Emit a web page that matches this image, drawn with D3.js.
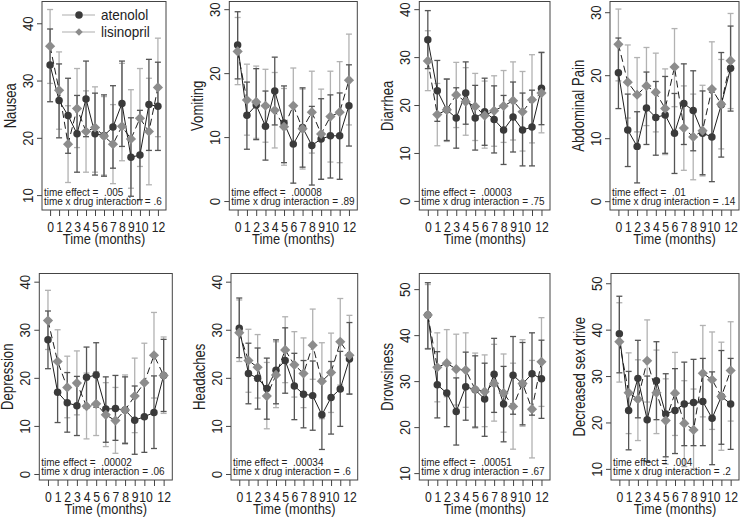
<!DOCTYPE html>
<html>
<head>
<meta charset="utf-8">
<script src="https://cdn.jsdelivr.net/npm/d3@7"></script>
<style>
  body { margin: 0; background: #fff; }
  text { font-family: "Liberation Sans", Arial, sans-serif; fill: #222; }
</style>
</head>
<body>
<svg id="chart" width="740" height="520"></svg>
<script>
// ---- data ----
const months = d3.range(0, 13)
const monthLabels = [0,1,2,3,4,5,6,7,8,9,10,12]
const symptoms = ["Nausea","Vomiting","Diarrhea","Abdominal Pain","Depression","Headaches","Drowsiness","Decreased sex drive"]
const timeEffect = [".005",".00008",".00003",".01",".00002",".00034",".00051",".004"]
const interaction = [".6",".89",".75",".14",".06",".6",".67",".2"]
const yTicks = [[10,20,30,40],[0,10,20,30],[0,10,20,30,40],[0,10,20,30],
                [0,10,20,30,40],[0,10,20,30,40],[10,20,30,40,50],[10,20,30,40,50]]
const yExtent = [[7.4,43.8],[-1.4,31.2],[-1.9,41.6],[-1.4,31.7],
                 [-1.25,41.7],[-1.25,41.7],[8.5,53.4],[7.6,52.1]]

const atenololMean = [
  [32.7,26.5,23.9,20.7,26.8,20.7,20.4,21.9,26.0,16.6,17.0,25.8,25.5],
  [24.4,13.4,15.0,11.7,17.2,12.2,8.9,11.5,8.7,9.7,10.2,10.2,14.9],
  [33.6,23.0,19.0,17.3,22.5,17.3,18.6,17.0,14.8,17.5,14.8,15.4,23.5],
  [20.4,11.3,8.7,14.8,13.3,13.7,10.8,15.5,14.4,10.8,10.2,15.3,21.1],
  [27.9,17.0,14.8,14.2,20.1,20.6,13.5,13.6,13.3,11.2,11.9,12.8,20.5],
  [30.3,20.9,19.9,17.8,21.6,23.6,18.3,16.6,16.3,12.3,15.9,17.7,23.9],
  [44.4,29.2,27.4,23.4,28.8,28.1,26.1,31.5,25.0,31.3,29.4,31.6,30.5],
  [39.1,22.6,29.5,20.6,29.0,21.8,22.6,24.0,24.3,24.5,20.9,25.6,24.0]]
const atenololLow = [
  [26.3,20.0,17.3,14.0,20.2,13.5,13.3,14.7,18.5,9.8,9.2,17.8,17.8],
  [19.1,8.1,9.6,6.4,11.9,6.0,2.8,5.3,2.5,3.4,3.6,3.4,8.6],
  [27.6,16.6,12.6,11.0,16.0,10.6,11.6,10.0,7.6,10.2,7.3,7.3,15.9],
  [14.7,5.5,2.9,9.0,7.3,7.6,4.4,9.0,8.0,4.2,3.1,7.0,14.3],
  [21.9,10.7,8.7,8.0,13.7,13.9,6.6,7.0,6.3,4.1,4.5,5.3,13.0],
  [24.2,14.6,13.5,11.4,14.6,16.8,11.3,9.6,9.1,5.1,8.3,9.9,16.6],
  [37.0,22.0,20.1,16.1,21.5,20.0,18.0,23.2,16.8,22.8,20.5,22.6,21.9],
  [30.7,14.1,21.0,11.6,20.6,12.6,13.3,15.0,15.0,15.0,10.9,15.3,14.2]]
const atenololHigh = [
  [39.0,32.9,30.4,27.4,33.4,27.8,27.5,29.1,33.4,23.5,24.8,33.7,33.2],
  [29.6,18.6,20.7,17.2,22.5,18.0,15.0,17.7,14.8,16.0,16.6,16.9,21.3],
  [39.7,29.3,25.4,23.6,29.0,24.1,25.6,24.0,22.0,24.8,22.5,23.1,31.0],
  [25.9,17.0,14.2,20.5,19.0,19.8,17.1,21.8,20.7,17.5,17.3,23.6,27.8],
  [33.9,23.2,21.1,20.3,26.4,27.3,20.2,20.5,20.2,18.3,19.3,20.4,28.0],
  [36.6,27.2,26.2,24.1,27.9,30.4,25.1,23.6,23.5,19.7,23.4,25.5,31.5],
  [51.4,36.4,34.0,30.7,36.3,35.5,33.9,39.3,33.2,39.7,38.4,40.5,38.9],
  [47.2,31.0,37.7,30.0,37.4,30.5,31.6,33.0,33.6,33.8,30.9,35.5,33.8]]

const lisinoprilMean = [
  [36.0,28.3,18.9,25.1,21.1,21.8,20.3,18.9,22.0,19.8,23.4,21.1,28.8],
  [23.4,15.8,15.5,14.9,14.2,11.6,14.9,11.3,13.9,10.5,13.2,13.9,18.9],
  [29.2,18.0,19.0,22.1,20.7,19.7,17.8,18.8,19.8,20.9,18.6,21.1,22.5],
  [24.9,18.9,16.9,18.3,17.3,14.7,21.3,11.6,10.2,11.2,17.8,15.4,22.3],
  [31.9,23.4,18.0,18.9,14.1,14.6,12.3,11.1,13.3,16.2,19.0,24.7,20.5],
  [29.4,23.6,22.2,16.2,20.6,25.8,22.7,20.9,26.8,19.3,21.1,27.5,24.7],
  [44.4,33.0,33.9,32.6,32.4,28.2,27.7,29.5,27.4,24.5,29.5,23.9,34.2],
  [37.4,26.4,25.0,33.3,26.4,20.4,26.3,19.8,18.4,30.6,29.2,25.6,31.2]]
const lisinoprilLow = [
  [29.5,21.5,12.2,18.3,14.0,14.0,13.5,12.0,16.0,11.2,15.0,11.8,20.2],
  [18.2,10.3,9.8,9.2,8.3,5.6,8.9,5.0,7.5,3.4,6.1,6.0,11.9],
  [23.0,11.5,12.4,15.3,13.7,12.6,11.0,11.4,12.2,12.7,10.4,12.1,14.2],
  [19.1,13.2,11.0,12.0,11.0,7.4,15.0,4.9,3.4,4.0,10.4,8.3,14.7],
  [25.9,16.9,11.7,12.3,7.3,8.0,5.7,4.3,6.5,8.6,11.5,15.8,12.6],
  [23.4,17.0,15.8,9.4,13.8,19.0,16.0,13.8,19.7,11.5,12.8,18.5,16.7],
  [37.1,25.5,26.6,24.8,24.3,19.8,20.1,21.3,18.9,15.2,20.2,13.3,24.5],
  [28.7,17.6,16.1,24.4,17.6,11.0,17.2,10.5,10.0,21.2,18.5,14.0,20.3]]
const lisinoprilHigh = [
  [42.4,35.0,25.6,32.1,28.2,28.9,27.2,25.8,33.0,28.4,32.1,30.4,37.4],
  [28.7,21.4,21.1,20.6,20.1,17.6,20.8,17.5,20.3,17.5,20.3,21.8,26.1],
  [35.5,24.5,25.5,28.9,27.8,26.6,25.0,26.1,27.2,29.0,27.0,30.5,30.9],
  [30.5,24.8,22.8,24.4,23.5,21.0,27.4,18.3,17.0,18.4,25.3,22.5,29.8],
  [38.2,30.0,24.5,25.6,21.0,21.3,19.0,18.0,20.6,24.1,27.2,33.6,28.5],
  [36.2,30.1,29.0,23.2,27.5,32.7,29.6,28.3,34.3,27.3,29.3,36.5,33.0],
  [51.0,40.5,41.2,40.2,40.5,36.1,35.7,38.0,35.9,33.9,39.0,34.5,43.8],
  [45.8,35.0,33.5,42.1,35.6,29.4,35.1,29.0,27.2,40.9,39.5,37.3,41.7]]

// ---- layout: plot boxes [left, right, top, bottom] ----
const boxes = [[42,166,1.5,210],[229.3,357.3,1.5,210],[419.3,550,1.5,210],[610,739,1.5,210],
               [39.3,172.3,273.5,480],[231,357.7,273.5,480],[419.3,550,273.5,480],[611,739,273.5,480]]

const darkBar = "#555", lightBar = "#b2b2b2",
      darkMark = "#3a3a3a", lightMark = "#8c8c8c", lineCol = "#1e1e1e"

const svg = d3.select("#chart")

function label(g, x, y, str, size, sx, anchor, rot) {
  return g.append("text")
    .attr("transform", `translate(${x},${y}) rotate(${rot||0}) scale(${sx},1)`)
    .attr("text-anchor", anchor)
    .style("font-size", size + "px")
    .style("white-space", "pre")
    .text(str)
}

symptoms.forEach((name, i) => {
  const [x0, x1, y0, y1] = boxes[i]
  const x = d3.scaleLinear().domain([-0.9, 12.9]).range([x0, x1])
  const y = d3.scaleLinear().domain(yExtent[i]).range([y1, y0])
  const g = svg.append("g")

  const series = [
    {mean: atenololMean[i], lo: atenololLow[i], hi: atenololHigh[i], bar: darkBar},
    {mean: lisinoprilMean[i], lo: lisinoprilLow[i], hi: lisinoprilHigh[i], bar: lightBar}]

  // confidence intervals (light first, dark on top)
  ;[series[1], series[0]].forEach(s => {
    const cg = g.append("g").attr("stroke", s.bar).attr("stroke-width", 1.3).attr("fill", "none")
    months.forEach(m => {
      cg.append("line").attr("x1", x(m)).attr("x2", x(m)).attr("y1", y(s.lo[m])).attr("y2", y(s.hi[m]))
      cg.append("line").attr("x1", x(m)-3).attr("x2", x(m)+3).attr("y1", y(s.lo[m])).attr("y2", y(s.lo[m]))
      cg.append("line").attr("x1", x(m)-3).attr("x2", x(m)+3).attr("y1", y(s.hi[m])).attr("y2", y(s.hi[m]))
    })
  })

  const line = d3.line().x((d, k) => x(months[k])).y(d => y(d))
  g.append("path").attr("d", line(series[0].mean)).attr("fill", "none")
    .attr("stroke", lineCol).attr("stroke-width", 1)
  g.append("path").attr("d", line(series[1].mean)).attr("fill", "none")
    .attr("stroke", lineCol).attr("stroke-width", 1).attr("stroke-dasharray", "7,4")

  g.selectAll(".circ").data(series[0].mean).join("path").attr("class", "circ")
    .attr("transform", (d, k) => `translate(${x(months[k])},${y(d)})`)
    .attr("d", d3.symbol(d3.symbolCircle, 44)).attr("fill", darkMark)
  g.selectAll(".diam").data(series[1].mean).join("path").attr("class", "diam")
    .attr("transform", (d, k) => `translate(${x(months[k])},${y(d)}) rotate(45)`)
    .attr("d", d3.symbol(d3.symbolSquare, 52)).attr("fill", lightMark)

  // frame
  g.append("rect").attr("x", x0).attr("y", y0).attr("width", x1-x0).attr("height", y1-y0)
    .attr("fill", "none").attr("stroke", "#444").attr("stroke-width", 1)

  // axes
  const xa = g.append("g").attr("transform", `translate(0,${y1})`)
    .call(d3.axisBottom(x).tickValues(months).tickSize(6).tickSizeOuter(0)
      .tickFormat(d => monthLabels.includes(d) ? d : ""))
  xa.select(".domain").remove()
  xa.selectAll("line").attr("stroke", "#444")
  xa.selectAll("text").attr("y", 22).attr("dy", 0)
    .attr("x", d => d === 10 ? 1.5 : 0)
    .attr("transform", "scale(0.84,1)")
    .style("font-size", "14.5px").attr("fill", "#222")

  const ya = g.append("g").attr("transform", `translate(${x0},0)`)
    .call(d3.axisLeft(y).tickValues(yTicks[i]).tickSize(5).tickSizeOuter(0))
  ya.select(".domain").remove()
  ya.selectAll("line").attr("stroke", "#444")
  ya.selectAll("text").attr("x", 0).attr("y", -9).attr("dy", 0)
    .attr("transform", "rotate(-90) scale(0.88,1)")
    .attr("text-anchor", "middle")
    .style("font-size", "15px").attr("fill", "#222")
  xa.attr("font-family", null); ya.attr("font-family", null)

  label(g, (x0+x1)/2, y1+34, "Time (months)", 14, 0.92, "middle")
  label(g, x0-26, (y0+y1)/2, name, 16, 0.82, "middle", -90)

  label(g, x0+2, y1-14.5, "time effect =  " + timeEffect[i], 10.5, 0.95, "start")
  label(g, x0+2, y1-5.5, "time x drug interaction = " + interaction[i], 10.5, 0.95, "start")

  if (i === 0) {
    const lg = g.append("g")
    const entries = [{name: "atenolol", y: 15, circ: true}, {name: "lisinopril", y: 32, circ: false}]
    entries.forEach(e => {
      lg.append("line").attr("x1", 62).attr("x2", 95).attr("y1", e.y).attr("y2", e.y)
        .attr("stroke", "#c8c8c8").attr("stroke-width", 1.5)
      lg.append("path").attr("transform", `translate(79,${e.y})` + (e.circ ? "" : " rotate(45)"))
        .attr("d", d3.symbol(e.circ ? d3.symbolCircle : d3.symbolSquare, e.circ ? 44 : 28))
        .attr("fill", e.circ ? darkMark : lightMark)
      label(lg, 101, e.y + 5, e.name, 15, 0.9, "start")
    })
  }
})
</script>
</body>
</html>
